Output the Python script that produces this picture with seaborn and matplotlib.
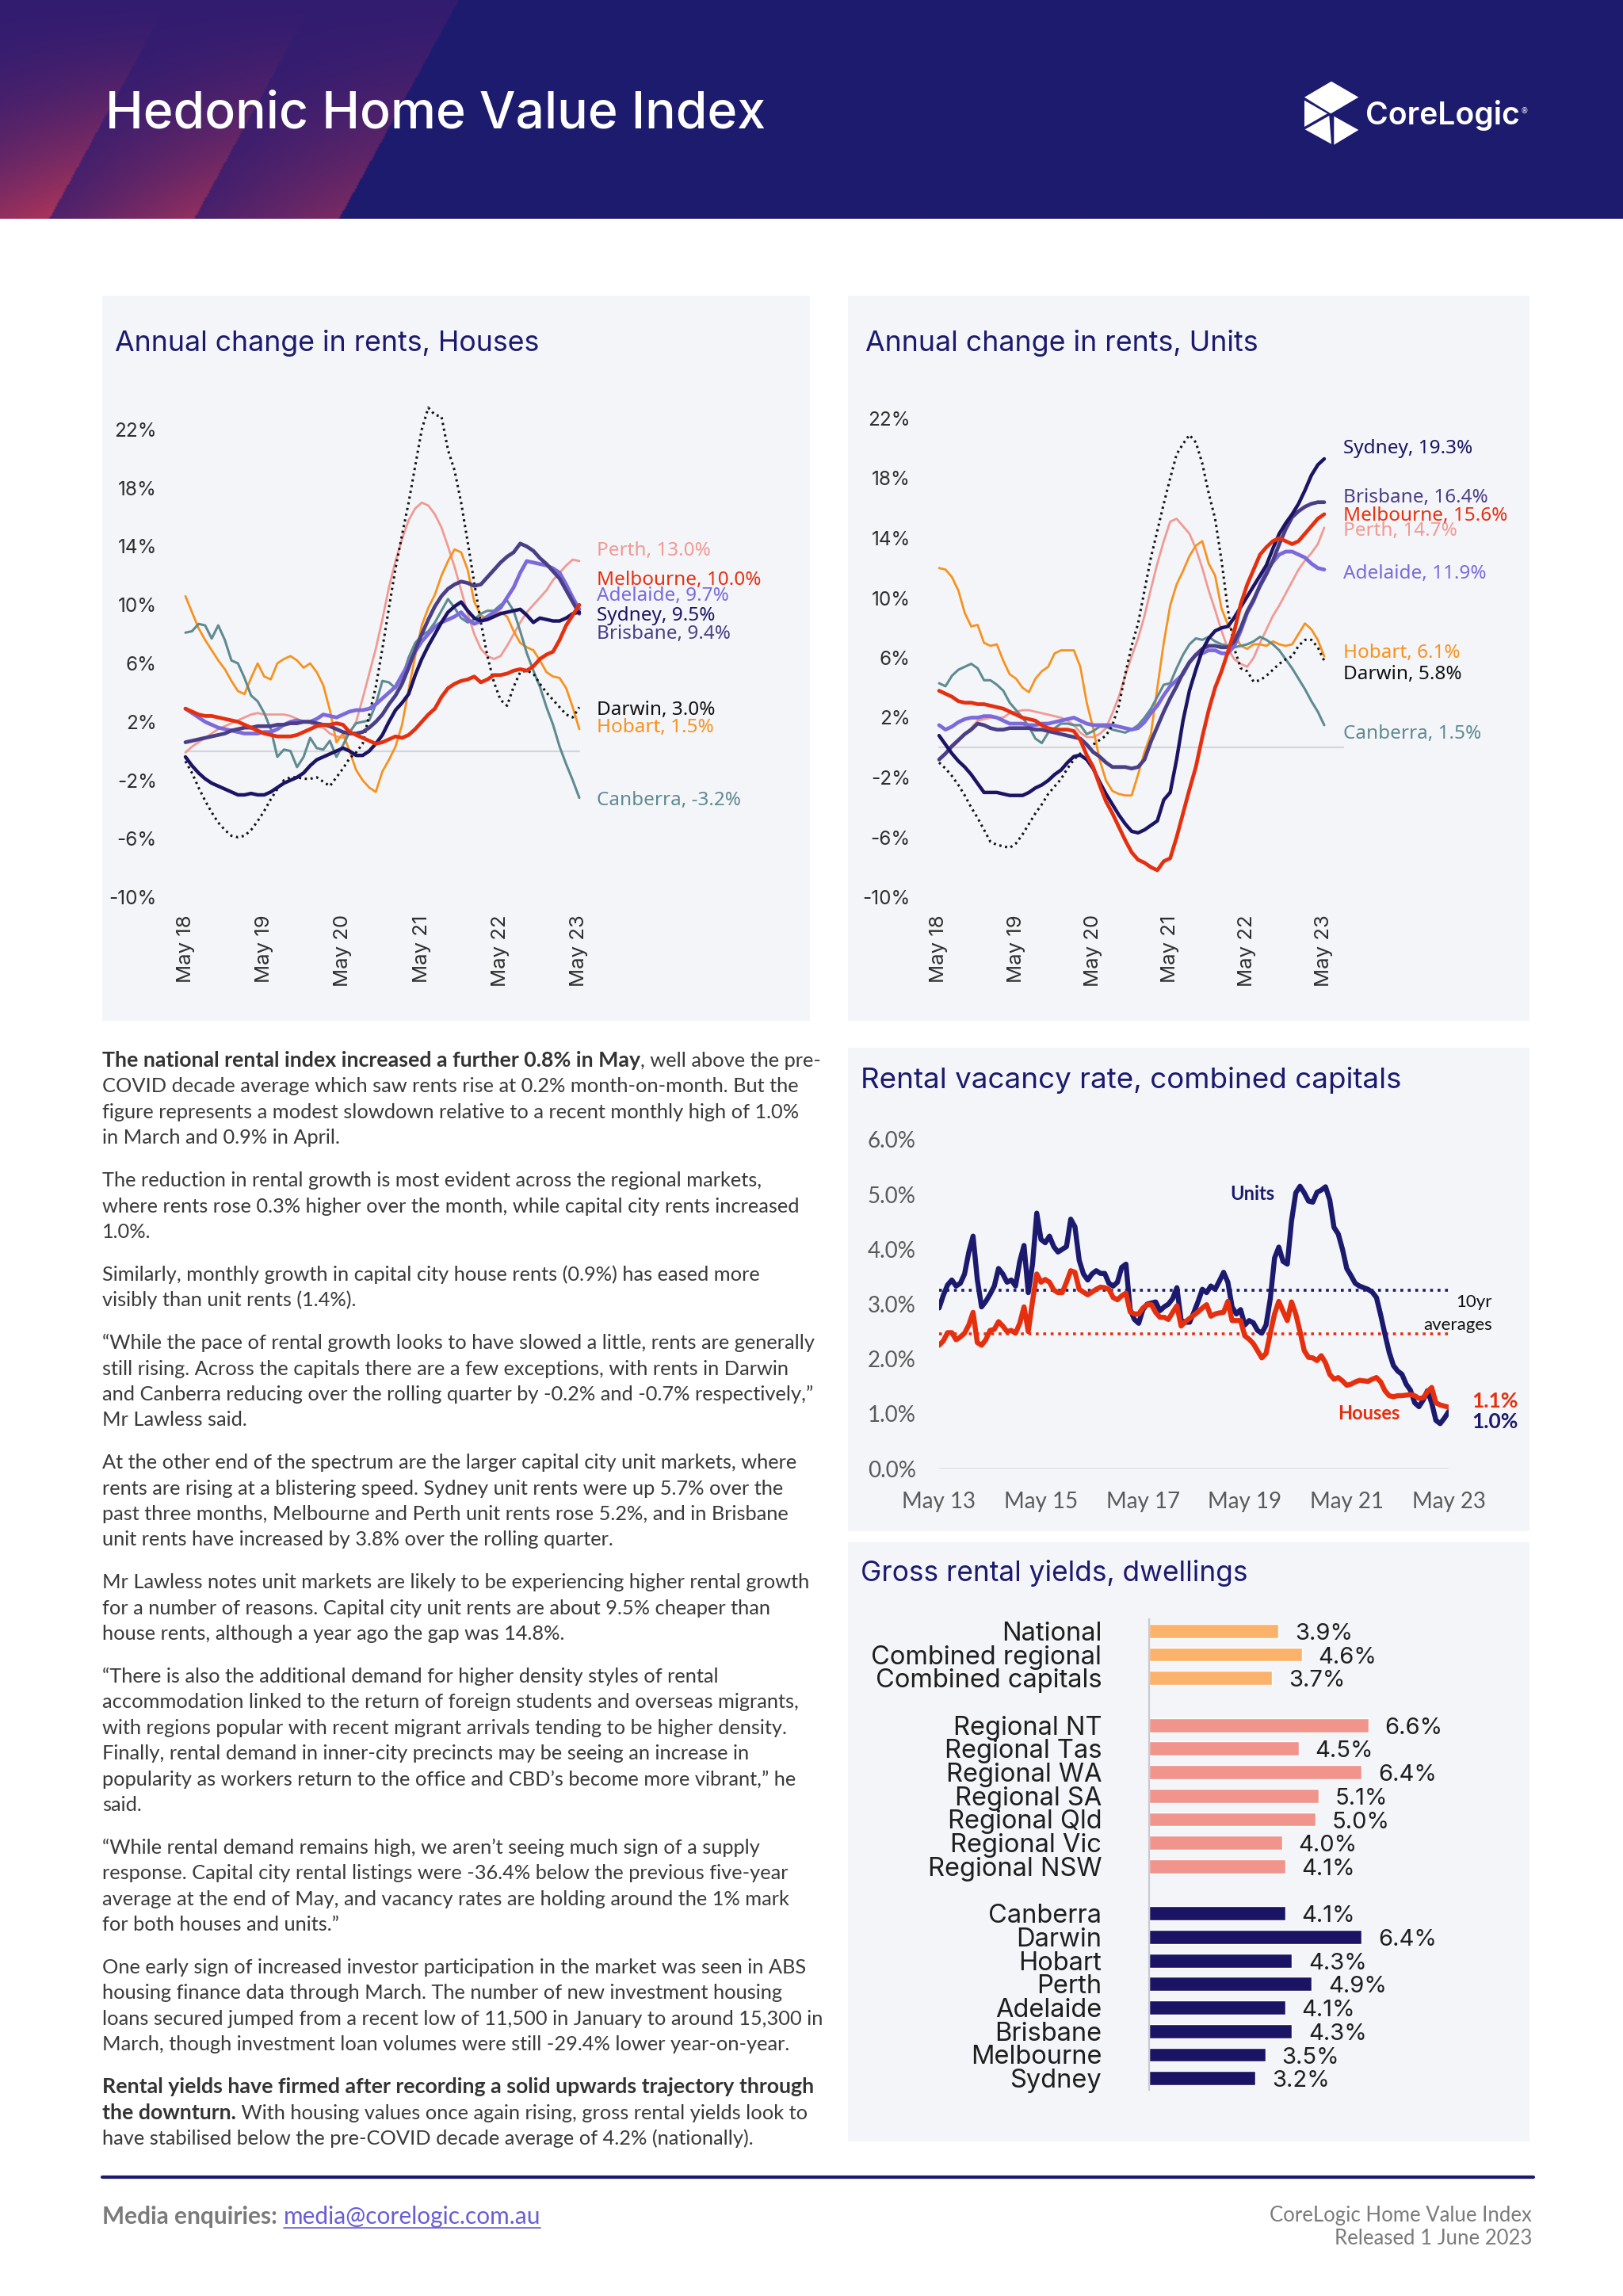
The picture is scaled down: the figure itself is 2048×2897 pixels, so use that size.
import numpy as np
import pandas as pd
import matplotlib
matplotlib.use("Agg")
import matplotlib.pyplot as plt
from matplotlib.patches import Rectangle, Polygon
from matplotlib.lines import Line2D
import seaborn as sns

sns.set_theme(style="white")
plt.rcParams['font.family'] = ['Inter', 'DejaVu Sans']

# ---------------- data ----------------
rent_ticks = ['May 18', 'May 19', 'May 20', 'May 21', 'May 22', 'May 23']
vac_ticks = ['May 13', 'May 15', 'May 17', 'May 19', 'May 21', 'May 23']
cities = ['Perth', 'Melbourne', 'Adelaide', 'Sydney', 'Brisbane', 'Darwin', 'Hobart', 'Canberra']

# annual change in rents, houses (monthly, May 18 - May 23)
houses_sydney = [-0.4, -1.0, -1.5, -1.9, -2.2, -2.4, -2.6, -2.8, -3.0, -3.0,
                 -2.9, -3.0, -3.0, -2.8, -2.5, -2.2, -2.0, -1.8, -1.5, -1.0,
                 -0.6, -0.4, -0.2, 0.0, 0.2, 0.0, -0.3, -0.3, 0.0, 0.5,
                 1.1, 2.0, 2.8, 3.3, 3.9, 5.2, 6.3, 7.2, 8.0, 8.8,
                 9.5, 9.9, 10.2, 9.6, 9.1, 8.9, 9.0, 9.2, 9.4, 9.5,
                 9.6, 9.7, 9.3, 8.8, 9.1, 9.0, 8.9, 8.9, 9.1, 9.4, 9.5]
houses_melbourne = [2.9, 2.7, 2.5, 2.4, 2.4, 2.3, 2.2, 2.1, 2.0, 1.8,
                    1.6, 1.4, 1.2, 1.1, 1.0, 1.0, 1.0, 1.1, 1.3, 1.5,
                    1.7, 1.8, 1.8, 1.9, 1.8, 1.3, 1.1, 0.9, 0.7, 0.5,
                    0.6, 0.8, 1.0, 0.9, 1.1, 1.5, 2.0, 2.5, 2.9, 3.7,
                    4.3, 4.6, 4.8, 4.9, 5.1, 4.7, 4.9, 5.2, 5.2, 5.3,
                    5.5, 5.6, 5.5, 5.8, 6.3, 6.6, 6.8, 7.6, 8.6, 9.3, 10.0]
houses_brisbane = [0.6, 0.7, 0.8, 0.9, 1.0, 1.1, 1.2, 1.4, 1.5, 1.6,
                   1.6, 1.7, 1.7, 1.7, 1.8, 1.8, 1.9, 1.9, 2.0, 2.0,
                   1.9, 1.8, 1.7, 1.5, 1.3, 1.2, 1.2, 1.3, 1.6, 2.0,
                   2.5, 3.2, 3.8, 4.6, 5.7, 6.9, 8.0, 9.0, 9.9, 10.6,
                   11.1, 11.4, 11.6, 11.5, 11.3, 11.4, 11.9, 12.4, 12.9, 13.3,
                   13.6, 14.2, 14.0, 13.7, 13.2, 12.8, 12.3, 11.8, 11.0, 10.2, 9.4]
houses_adelaide = [2.9, 2.6, 2.3, 2.0, 1.8, 1.6, 1.5, 1.4, 1.3, 1.2,
                   1.2, 1.2, 1.3, 1.3, 1.5, 1.8, 2.0, 2.1, 2.0, 2.0,
                   2.2, 2.5, 2.4, 2.3, 2.5, 2.7, 2.8, 2.8, 2.9, 3.2,
                   3.6, 4.0, 4.4, 5.2, 6.0, 6.8, 7.5, 8.0, 8.5, 8.8,
                   9.0, 9.2, 9.5, 9.0, 8.7, 8.9, 9.2, 9.5, 9.8, 10.5,
                   11.2, 12.2, 13.0, 12.9, 12.8, 12.7, 12.5, 12.2, 11.4, 10.5, 9.7]
houses_perth = [-0.1, 0.3, 0.6, 0.9, 1.2, 1.5, 1.7, 1.9, 2.1, 2.3,
                2.5, 2.6, 2.5, 2.5, 2.5, 2.5, 2.4, 2.2, 2.0, 1.9,
                1.7, 1.6, 1.2, 1.0, 0.9, 1.2, 2.0, 3.6, 5.3, 7.0,
                9.0, 11.2, 13.0, 14.5, 15.8, 16.6, 17.0, 16.8, 16.2, 15.3,
                14.0, 12.6, 11.0, 9.4, 8.0, 7.0, 6.5, 6.3, 6.5, 7.2,
                8.0, 8.8, 9.5, 10.0, 10.5, 11.0, 11.7, 12.2, 12.7, 13.1, 13.0]
houses_hobart = [10.6, 9.5, 8.4, 7.6, 6.9, 6.2, 5.6, 4.8, 4.1, 3.9,
                 5.0, 6.0, 5.1, 4.9, 6.0, 6.3, 6.5, 6.2, 5.7, 6.0,
                 5.4, 4.5, 2.8, 0.6, 1.2, 0.0, -1.3, -2.0, -2.5, -2.8,
                 -1.4, -0.6, 0.3, 1.8, 4.2, 6.5, 8.6, 9.8, 10.7, 12.0,
                 13.0, 13.8, 13.6, 12.4, 10.2, 9.3, 9.0, 9.3, 9.5, 9.2,
                 8.2, 7.4, 7.1, 6.9, 6.2, 5.4, 5.1, 5.0, 4.3, 3.0, 1.5]
houses_darwin = [-0.7, -1.5, -2.5, -3.4, -4.2, -4.9, -5.4, -5.8, -5.9, -5.8,
                 -5.4, -4.8, -4.1, -3.3, -2.6, -2.0, -1.8, -1.8, -1.9, -1.9,
                 -1.8, -2.1, -2.4, -1.8, -1.2, -0.5, -0.1, 0.5, 2.5, 4.4,
                 7.0, 9.8, 12.5, 14.8, 17.0, 19.5, 22.0, 23.5, 23.0, 22.9,
                 20.6, 19.2, 17.0, 14.3, 11.5, 8.8, 6.5, 4.7, 3.5, 3.1,
                 4.4, 5.4, 5.5, 5.3, 4.6, 4.0, 3.5, 3.0, 2.5, 2.3, 3.0]
houses_canberra = [8.1, 8.2, 8.7, 8.6, 7.7, 8.6, 7.6, 6.2, 6.0, 5.0,
                   3.8, 3.4, 2.6, 1.5, -0.4, 0.1, 0.0, -1.1, -0.4, 0.9,
                   0.2, 0.1, 0.7, -0.4, 0.4, 1.3, 1.9, 2.0, 2.1, 3.2,
                   4.8, 4.7, 4.3, 5.0, 6.4, 7.4, 7.9, 8.2, 8.8, 9.6,
                   10.4, 9.8, 9.1, 8.8, 9.0, 9.4, 9.6, 9.6, 10.0, 10.3,
                   9.6, 8.2, 6.7, 5.5, 4.4, 3.0, 1.8, 0.3, -0.9, -2.0, -3.2]

# annual change in rents, units (monthly, May 18 - May 23)
units_sydney = [0.8, 0.2, -0.4, -0.9, -1.3, -1.8, -2.4, -3.0, -3.0, -3.0,
                -3.1, -3.2, -3.2, -3.2, -3.0, -2.7, -2.5, -2.2, -1.8, -1.5,
                -1.0, -0.6, -0.5, -0.8, -1.4, -2.3, -3.1, -3.8, -4.5, -5.1,
                -5.6, -5.7, -5.5, -5.2, -4.9, -3.5, -3.0, -0.8, 1.8, 3.8,
                5.2, 6.5, 7.3, 7.8, 8.0, 8.1, 8.7, 9.4, 10.1, 10.8,
                11.5, 12.2, 13.3, 14.3, 15.0, 15.6, 16.3, 17.2, 18.2, 18.9, 19.3]
units_brisbane = [-0.8, -0.4, 0.1, 0.5, 0.9, 1.2, 1.6, 1.5, 1.3, 1.2,
                  1.2, 1.3, 1.3, 1.3, 1.3, 1.2, 1.2, 1.1, 1.0, 0.9,
                  0.8, 0.7, 0.6, 0.2, -0.3, -0.6, -1.0, -1.3, -1.3, -1.3,
                  -1.4, -1.3, -0.8, 0.4, 1.4, 2.4, 3.3, 4.1, 5.0, 5.7,
                  6.2, 6.6, 6.8, 6.8, 6.7, 6.7, 7.1, 8.0, 9.1, 9.9,
                  10.8, 11.6, 12.5, 13.6, 14.6, 15.4, 15.8, 16.1, 16.3, 16.4, 16.4]
units_melbourne = [3.8, 3.6, 3.4, 3.1, 3.0, 3.0, 2.9, 2.9, 2.8, 2.7,
                   2.6, 2.4, 2.2, 2.0, 1.9, 1.8, 1.5, 1.3, 1.2, 1.2,
                   1.2, 1.1, 0.5, -0.5, -1.3, -2.5, -3.6, -4.4, -5.3, -6.2,
                   -7.0, -7.5, -7.7, -8.0, -8.2, -7.6, -7.4, -6.0, -4.4, -2.8,
                   -1.3, 0.7, 2.5, 4.0, 5.1, 6.4, 7.8, 9.6, 10.9, 11.9,
                   12.9, 13.4, 13.8, 14.0, 13.8, 13.6, 13.8, 14.3, 14.8, 15.3, 15.6]
units_perth = [-0.8, -0.4, 0.0, 0.4, 0.9, 1.3, 1.8, 1.9, 2.0, 2.0,
               2.0, 2.3, 2.4, 2.5, 2.5, 2.4, 2.3, 2.2, 2.1, 2.0,
               1.8, 1.5, 1.0, 0.7, 0.7, 0.9, 1.3, 2.3, 3.4, 4.8,
               6.1, 7.3, 8.8, 10.6, 12.3, 13.8, 15.1, 15.3, 14.8, 14.3,
               13.3, 12.0, 10.5, 9.2, 7.8, 6.6, 5.9, 5.6, 5.4, 6.0,
               7.0, 7.9, 8.8, 9.5, 10.3, 11.1, 11.9, 12.5, 13.0, 13.6, 14.7]
units_adelaide = [1.5, 1.2, 1.4, 1.7, 1.9, 2.0, 2.0, 2.1, 2.1, 2.0,
                  1.8, 1.6, 1.6, 1.6, 1.5, 1.5, 1.6, 1.6, 1.7, 1.8,
                  1.9, 2.0, 1.8, 1.6, 1.5, 1.5, 1.5, 1.5, 1.4, 1.3,
                  1.2, 1.3, 1.7, 2.3, 2.8, 3.5, 4.1, 4.5, 4.9, 5.7,
                  6.2, 6.3, 6.5, 6.5, 6.3, 6.3, 6.8, 7.8, 9.0, 9.8,
                  10.9, 11.8, 12.4, 12.9, 13.1, 13.1, 12.9, 12.7, 12.3, 12.0, 11.9]
units_hobart = [12.0, 11.9, 11.4, 10.5, 9.0, 8.1, 8.2, 7.0, 6.8, 6.9,
                5.8, 4.9, 4.6, 4.0, 3.7, 4.6, 5.1, 5.4, 6.3, 6.5,
                6.5, 6.5, 5.4, 3.0, 1.3, -0.8, -2.2, -2.9, -3.1, -3.2,
                -3.2, -1.8, -0.3, 0.9, 4.0, 7.0, 9.5, 10.9, 11.8, 12.8,
                13.5, 13.8, 12.3, 11.5, 9.3, 8.2, 7.6, 6.8, 6.6, 6.9,
                6.9, 6.8, 7.1, 6.9, 6.8, 6.9, 7.6, 8.3, 7.9, 7.2, 6.1]
units_darwin = [-1.0, -1.4, -1.9, -2.5, -3.2, -4.0, -4.7, -5.5, -6.3, -6.5,
                -6.6, -6.7, -6.4, -5.8, -5.1, -4.4, -3.8, -3.1, -2.6, -2.1,
                -1.4, -0.8, -0.4, 0.0, 0.2, 0.5, 0.8, 1.5, 2.8, 4.9,
                6.8, 8.3, 10.5, 12.7, 14.5, 16.3, 18.0, 19.6, 20.3, 20.9,
                20.4, 19.0, 17.0, 15.3, 12.5, 9.2, 6.6, 5.3, 5.1, 4.4,
                4.5, 4.8, 5.2, 5.6, 5.9, 6.1, 6.8, 7.2, 7.2, 6.7, 5.8]
units_canberra = [4.3, 4.1, 4.8, 5.2, 5.4, 5.6, 5.3, 4.5, 4.5, 4.2,
                  3.8, 3.0, 2.5, 2.0, 1.4, 0.6, 0.3, 1.0, 1.3, 1.6,
                  1.6, 1.5, 1.5, 0.9, 1.1, 1.4, 1.4, 1.2, 1.1, 1.0,
                  1.2, 1.5, 2.0, 2.6, 3.4, 4.2, 4.3, 5.3, 6.2, 6.9,
                  7.3, 7.2, 7.4, 7.1, 6.9, 6.8, 6.7, 6.8, 6.9, 7.1,
                  7.4, 7.2, 6.9, 6.5, 5.9, 5.3, 4.6, 3.9, 3.1, 2.4, 1.5]

# rental vacancy rate, combined capitals (monthly, May 13 - May 23)
vac_units = [2.93, 3.16, 3.35, 3.44, 3.33, 3.38, 3.55, 3.95, 4.24, 3.45,
             2.95, 3.05, 3.18, 3.33, 3.65, 3.55, 3.40, 3.44, 3.33, 3.78,
             4.07, 3.21, 3.73, 4.66, 4.18, 4.12, 4.24, 4.05, 3.95, 4.00,
             4.05, 4.55, 4.41, 3.80, 3.55, 3.44, 3.55, 3.61, 3.56, 3.56,
             3.38, 3.33, 3.40, 3.67, 3.73, 2.90, 2.72, 2.65, 2.90, 3.00,
             3.02, 3.04, 2.88, 2.95, 3.00, 3.10, 3.30, 2.70, 2.67, 2.67,
             2.85, 3.05, 3.27, 3.21, 3.33, 3.27, 3.42, 3.58, 3.40, 2.95,
             2.82, 2.90, 2.62, 2.70, 2.66, 2.52, 2.47, 2.62, 3.10, 3.84,
             4.04, 3.78, 3.73, 4.52, 5.03, 5.15, 5.03, 4.88, 4.86, 5.04,
             5.08, 5.14, 4.90, 4.40, 4.28, 4.00, 3.65, 3.52, 3.38, 3.33,
             3.30, 3.27, 3.22, 3.12, 2.80, 2.45, 2.12, 1.88, 1.78, 1.72,
             1.54, 1.43, 1.20, 1.13, 1.25, 1.42, 1.20, 0.88, 0.82, 0.92,
             1.04]
vac_houses = [2.25, 2.33, 2.48, 2.48, 2.35, 2.40, 2.47, 2.62, 2.85, 2.30,
              2.25, 2.35, 2.52, 2.54, 2.68, 2.60, 2.50, 2.52, 2.47, 2.65,
              2.95, 2.50, 3.05, 3.55, 3.40, 3.45, 3.40, 3.26, 3.21, 3.21,
              3.40, 3.61, 3.58, 3.27, 3.22, 3.17, 3.22, 3.27, 3.31, 3.30,
              3.27, 3.12, 3.08, 3.15, 3.20, 2.86, 2.82, 2.82, 2.93, 2.99,
              2.99, 2.85, 2.76, 2.76, 2.72, 2.85, 2.97, 2.60, 2.68, 2.74,
              2.80, 2.86, 2.93, 2.99, 2.78, 2.82, 2.84, 2.85, 3.05, 2.70,
              2.70, 2.70, 2.42, 2.36, 2.28, 2.15, 2.02, 2.10, 2.47, 2.82,
              3.05, 2.87, 2.70, 3.04, 2.82, 2.50, 2.15, 2.03, 2.02, 1.97,
              2.06, 1.93, 1.72, 1.63, 1.66, 1.60, 1.52, 1.54, 1.58, 1.61,
              1.60, 1.59, 1.63, 1.66, 1.58, 1.42, 1.33, 1.31, 1.33, 1.33,
              1.34, 1.35, 1.33, 1.28, 1.29, 1.40, 1.48, 1.20, 1.16, 1.14,
              1.12]
avg_units = 3.25
avg_houses = 2.46

# gross rental yields, dwellings
yield_labels = ['National', 'Combined regional', 'Combined capitals',
                'Regional NT', 'Regional Tas', 'Regional WA', 'Regional SA',
                'Regional Qld', 'Regional Vic', 'Regional NSW',
                'Canberra', 'Darwin', 'Hobart', 'Perth', 'Adelaide',
                'Brisbane', 'Melbourne', 'Sydney']
yield_values = [3.9, 4.6, 3.7, 6.6, 4.5, 6.4, 5.1, 5.0, 4.0, 4.1,
                4.1, 6.4, 4.3, 4.9, 4.1, 4.3, 3.5, 3.2]
yield_groups = ['Aggregate'] * 3 + ['Regional'] * 7 + ['Capital'] * 8

# ---------------- styles ----------------
NAVY = '#1C1A6E'
PANEL = '#F4F5F9'
TEXT = '#3A3A3A'
COL = {'Sydney': '#1B1464', 'Melbourne': '#E5300F', 'Brisbane': '#4A3F86',
       'Adelaide': '#7C69DC', 'Perth': '#F09A94', 'Hobart': '#F7921E',
       'Darwin': '#111111', 'Canberra': '#5E8B90'}
LW = {'Sydney': 3.2, 'Melbourne': 3.4, 'Brisbane': 3.4, 'Adelaide': 3.4,
      'Perth': 2.0, 'Hobart': 2.0, 'Darwin': 2.2, 'Canberra': 2.2}
draw_order = ['Perth', 'Hobart', 'Canberra', 'Darwin', 'Adelaide', 'Brisbane', 'Sydney', 'Melbourne']

W, H = 2048, 2897
fig = plt.figure(figsize=(W / 100, H / 100), dpi=100)
fig.patch.set_facecolor('white')
renderer = fig.canvas.get_renderer()


def box(l, t, r, b):
    return [l / W, 1 - b / H, (r - l) / W, (b - t) / H]


def ftext(x, y, s, **kw):
    return fig.text(x / W, 1 - y / H, s, **kw)


def width(t):
    return t.get_window_extent(renderer=renderer).width


def fit(t, target):
    t.set_fontsize(t.get_fontsize() * target / width(t))
    return t


# ---------------- header ----------------
hh = 276
ax_h = fig.add_axes([0, 1 - hh / H, 1, hh / H])
X, Y = np.meshgrid(np.linspace(0, W, 1024), np.linspace(0, hh, 138))
u = X - 150 * (1 - Y / hh)
navy = np.array([29, 27, 110]) / 255
purple = np.array([50, 28, 112]) / 255
red = np.array([170, 52, 90]) / 255
img = np.tile(navy, (138, 1024, 1))
for a, b, s in [(-160, 62, 1.0), (62, 245, 0.8), (245, 428, 0.6)]:
    m = (u >= a) & (u < b)
    frac = np.clip((u - a) / (b - a), 0, 1)
    r = (s * (0.3 + 0.7 * frac) * (Y / hh) ** 1.4)[..., None]
    col = purple * (1 - r) + red * r
    img[m] = col[m]
ax_h.imshow(img, extent=(0, W, hh, 0), aspect='auto', interpolation='bilinear')
ax_h.set_xlim(0, W)
ax_h.set_ylim(hh, 0)
ax_h.axis('off')
t = ax_h.text(133, 162, 'Hedonic Home Value Index', color='white', fontsize=46,
              fontweight='medium', va='baseline', ha='left')
fit(t, 834)
for pts in [[(1646, 122.7), (1680, 102.7), (1714.3, 122.7), (1679.3, 143.3)],
            [(1646, 126.7), (1675, 143.3), (1646, 160)],
            [(1646.7, 163.3), (1677.3, 146), (1680, 181.7)],
            [(1683.3, 146.7), (1714.3, 164), (1683.3, 182.7)]]:
    ax_h.add_patch(Polygon(pts, closed=True, facecolor='white', edgecolor='none'))
t = ax_h.text(1723, 157, 'CoreLogic', color='white', fontsize=28, fontweight='semibold',
              va='baseline', ha='left')
fit(t, 195)
ax_h.text(1924, 140, '\u00ae', color='white', fontsize=7, va='center', ha='center',
          family=['DejaVu Sans'])

# ---------------- panels ----------------
for l, tp, r, b in [(129, 373, 1022, 1288), (1070, 373, 1930, 1288),
                    (1070, 1322, 1930, 1932), (1070, 1946, 1930, 2702)]:
    fig.add_artist(Rectangle((l / W, 1 - b / H), (r - l) / W, (b - tp) / H,
                             transform=fig.transFigure, facecolor=PANEL,
                             edgecolor='none', zorder=-5))

for x0, y0, s, w in [(1086, 1373, 'Rental vacancy rate, combined capitals', 682),
                     (145, 443, 'Annual change in rents, Houses', 535),
                     (1092, 443, 'Annual change in rents, Units', 495),
                     (1086, 1995, 'Gross rental yields, dwellings', 488)]:
    fit(ftext(x0, y0, s, color=NAVY, fontsize=20, va='baseline'), w)


# ---------------- rent charts ----------------
def rent_chart(ax, df, label_x, label_y, zero_end):
    for city in draw_order:
        ls = (0, (0.9, 1.5)) if city == 'Darwin' else '-'
        sns.lineplot(x=df.index, y=df[city], ax=ax, color=COL[city], lw=LW[city],
                     linestyle=ls, clip_on=False, legend=False)
    ax.axhline(0, xmin=0, xmax=zero_end, color='#D4D4DA', lw=1.6, zorder=0, clip_on=False)
    ax.set_xlim(0, 60)
    ax.set_ylim(-10, 22)
    ax.set_xticks(range(0, 61, 12))
    ax.set_xticklabels(rent_ticks, rotation=90)
    yt = list(range(-10, 23, 4))
    ax.set_yticks(yt)
    ax.set_yticklabels([f'{v}%' for v in yt])
    ax.tick_params(axis='y', length=0, pad=26, labelsize=17.5, labelcolor='#2E2E2E')
    ax.tick_params(axis='x', length=0, pad=16, labelsize=18.5, labelcolor='#2E2E2E')
    ax.set_xlabel('')
    ax.set_ylabel('')
    for s in ax.spines.values():
        s.set_visible(False)
    ax.set_facecolor('none')
    for city in cities:
        ax.text(label_x, label_y[city], f'{city}, {df[city].iloc[-1]:.1f}%',
                color=COL[city], fontsize=17.5, family=['Noto Sans', 'DejaVu Sans'],
                va='center', ha='left', clip_on=False)


houses = pd.DataFrame({'Sydney': houses_sydney, 'Melbourne': houses_melbourne,
                       'Brisbane': houses_brisbane, 'Adelaide': houses_adelaide,
                       'Perth': houses_perth, 'Hobart': houses_hobart,
                       'Darwin': houses_darwin, 'Canberra': houses_canberra})
units = pd.DataFrame({'Sydney': units_sydney, 'Melbourne': units_melbourne,
                      'Brisbane': units_brisbane, 'Adelaide': units_adelaide,
                      'Perth': units_perth, 'Hobart': units_hobart,
                      'Darwin': units_darwin, 'Canberra': units_canberra})

ax1 = fig.add_axes(box(234, 542, 731, 1132))
rent_chart(ax1, houses, 62.6,
           {'Perth': 13.7, 'Melbourne': 11.7, 'Adelaide': 10.6, 'Sydney': 9.25,
            'Brisbane': 8.0, 'Darwin': 2.8, 'Hobart': 1.6, 'Canberra': -3.4}, 1.0)
ax2 = fig.add_axes(box(1185, 528, 1671, 1132))
rent_chart(ax2, units, 63.0,
           {'Sydney': 20.0, 'Brisbane': 16.7, 'Melbourne': 15.5, 'Perth': 14.5,
            'Adelaide': 11.6, 'Hobart': 6.3, 'Darwin': 4.9, 'Canberra': 0.9}, 1.05)

# ---------------- vacancy chart ----------------
ax3 = fig.add_axes(box(1185, 1438, 1828, 1853))
vac = pd.DataFrame({'month': range(len(vac_units)), 'Units': vac_units, 'Houses': vac_houses})
RED = '#E5300F'
ax3.hlines([avg_units], 0, 120, colors=NAVY, linestyles=(0, (1, 1.6)), lw=2.6, zorder=1)
ax3.hlines([avg_houses], 0, 120, colors=RED, linestyles=(0, (1, 1.6)), lw=2.6, zorder=1)
sns.lineplot(data=vac, x='month', y='Units', ax=ax3, color=NAVY, lw=4.6, legend=False, zorder=3)
sns.lineplot(data=vac, x='month', y='Houses', ax=ax3, color=RED, lw=4.6, legend=False, zorder=4)
ax3.axhline(0, color='#D4D4DA', lw=1.8, zorder=0)
ax3.set_xlim(0, 120)
ax3.set_ylim(0, 6)
ax3.set_xticks(range(0, 121, 24))
ax3.set_xticklabels(vac_ticks)
ax3.set_yticks(range(0, 7))
ax3.set_yticklabels([f'{v:.1f}%' for v in range(0, 7)])
for lab in ax3.get_xticklabels() + ax3.get_yticklabels():
    lab.set_family(['Lato', 'DejaVu Sans'])
ax3.tick_params(axis='both', length=0, pad=21, labelsize=20, labelcolor='#5A5A5A')
ax3.set_xlabel('')
ax3.set_ylabel('')
for s in ax3.spines.values():
    s.set_visible(False)
ax3.set_facecolor('none')
lato = ['Lato', 'DejaVu Sans']
ax3.text(73.7, 5.01, 'Units', color=NAVY, fontsize=17, fontweight='bold', family=lato,
         ha='center', va='center')
ax3.text(101.3, 1.01, 'Houses', color=RED, fontsize=17, fontweight='bold', family=lato,
         ha='center', va='center')
ax3.text(130.3, 3.03, '10yr', color='#111111', fontsize=16, family=lato,
         ha='right', va='center', clip_on=False)
ax3.text(130.3, 2.62, 'averages', color='#111111', fontsize=16, family=lato,
         ha='right', va='center', clip_on=False)
ax3.text(125.4, 1.23, f'{vac_houses[-1]:.1f}%', color=RED, fontsize=19, fontweight='bold',
         family=lato, ha='left', va='center', clip_on=False)
ax3.text(125.4, 0.85, f'{vac_units[-1]:.1f}%', color=NAVY, fontsize=19, fontweight='bold',
         family=lato, ha='left', va='center', clip_on=False)

# ---------------- yields chart ----------------
ax4 = fig.add_axes(box(1450, 2043, 1869, 2637))
order = yield_labels[:3] + [' '] + yield_labels[3:10] + ['  '] + yield_labels[10:]
ydf = pd.DataFrame({'label': yield_labels, 'value': yield_values, 'group': yield_groups})
sns.barplot(data=ydf, x='value', y='label', hue='group', order=order, dodge=False,
            palette={'Aggregate': '#FBB26A', 'Regional': '#F0948C', 'Capital': '#1B1464'},
            width=0.6, saturation=1, legend=False, ax=ax4)
for lab, v in zip(yield_labels, yield_values):
    ax4.text(v + 0.5, order.index(lab) + 0.12, f'{v}%', fontsize=21, color='#1E1E1E',
             va='center', ha='left')
ax4.set_xlim(0, 10)
ax4.set_ylim(len(order) - 0.5, -0.5)
ax4.set_xticks([])
ax4.set_xlabel('')
ax4.set_ylabel('')
ax4.tick_params(axis='y', length=0, pad=43, labelsize=23.5, labelcolor='#1E1E1E')
for k, s in ax4.spines.items():
    s.set_visible(k == 'left')
ax4.spines['left'].set_color('#C9C9D2')
ax4.spines['left'].set_linewidth(1.6)
ax4.set_facecolor('none')

# ---------------- body text ----------------
paragraphs = [
    [('The national rental index increased a further 0.8% in May', ', well above the pre-'),
     'COVID decade average which saw rents rise at 0.2% month-on-month. But the',
     'figure represents a modest slowdown relative to a recent monthly high of 1.0%',
     'in March and 0.9% in April.'],
    ['The reduction in rental growth is most evident across the regional markets,',
     'where rents rose 0.3% higher over the month, while capital city rents increased',
     '1.0%.'],
    ['Similarly, monthly growth in capital city house rents (0.9%) has eased more',
     'visibly than unit rents (1.4%).'],
    ['\u201cWhile the pace of rental growth looks to have slowed a little, rents are generally',
     'still rising. Across the capitals there are a few exceptions, with rents in Darwin',
     'and Canberra reducing over the rolling quarter by -0.2% and -0.7% respectively,\u201d',
     'Mr Lawless said.'],
    ['At the other end of the spectrum are the larger capital city unit markets, where',
     'rents are rising at a blistering speed. Sydney unit rents were up 5.7% over the',
     'past three months, Melbourne and Perth unit rents rose 5.2%, and in Brisbane',
     'unit rents have increased by 3.8% over the rolling quarter.'],
    ['Mr Lawless notes unit markets are likely to be experiencing higher rental growth',
     'for a number of reasons. Capital city unit rents are about 9.5% cheaper than',
     'house rents, although a year ago the gap was 14.8%.'],
    ['\u201cThere is also the additional demand for higher density styles of rental',
     'accommodation linked to the return of foreign students and overseas migrants,',
     'with regions popular with recent migrant arrivals tending to be higher density.',
     'Finally, rental demand in inner-city precincts may be seeing an increase in',
     'popularity as workers return to the office and CBD\u2019s become more vibrant,\u201d he',
     'said.'],
    ['\u201cWhile rental demand remains high, we aren\u2019t seeing much sign of a supply',
     'response. Capital city rental listings were -36.4% below the previous five-year',
     'average at the end of May, and vacancy rates are holding around the 1% mark',
     'for both houses and units.\u201d'],
    ['One early sign of increased investor participation in the market was seen in ABS',
     'housing finance data through March. The number of new investment housing',
     'loans secured jumped from a recent low of 11,500 in January to around 15,300 in',
     'March, though investment loan volumes were still -29.4% lower year-on-year.'],
    [('Rental yields have firmed after recording a solid upwards trajectory through', ''),
     ('the downturn.', ' With housing values once again rising, gross rental yields look to'),
     'have stabilised below the pre-COVID decade average of 4.2% (nationally).'],
]

probe = ftext(129, 100, paragraphs[0][1], fontsize=16, family=lato)
bsize = probe.get_fontsize() * 884 / width(probe)
probe.remove()
probe = ftext(129, 100, paragraphs[-1][0][0], fontsize=16, family=lato, fontweight='bold')
bold_size = probe.get_fontsize() * 902 / width(probe)
probe.remove()

y = 1346
for para in paragraphs:
    for line in para:
        if isinstance(line, tuple):
            bt = ftext(129, y, line[0], fontsize=bold_size, family=lato, fontweight='bold',
                       color='#333333', va='baseline')
            if line[1]:
                ftext(129 + width(bt), y, line[1], fontsize=bsize, family=lato,
                      color=TEXT, va='baseline')
        else:
            ftext(129, y, line, fontsize=bsize, family=lato, color=TEXT, va='baseline')
        y += 32.4
    y += 21.5

# ---------------- footer ----------------
fig.add_artist(Line2D([129 / W, 1935 / W], [1 - 2747 / H] * 2, color=NAVY, lw=3,
                      transform=fig.transFigure))
mt = ftext(129, 2806, 'Media enquiries:', fontsize=18, family=lato, fontweight='bold',
           color='#7B7B7B', va='baseline')
fit(mt, 222)
lx = 129 + width(mt) + 8
lk = ftext(lx, 2806, 'media@corelogic.com.au', fontsize=mt.get_fontsize(), family=lato,
           color='#6A5CD6', va='baseline')
fig.add_artist(Line2D([lx / W, (lx + width(lk)) / W], [1 - 2811 / H] * 2, color='#6A5CD6',
                      lw=1.2, transform=fig.transFigure))
r1 = ftext(1933, 2803, 'CoreLogic Home Value Index', fontsize=18, family=lato,
           color='#7B7B7B', va='baseline', ha='right')
fit(r1, 329)
ftext(1933, 2832, 'Released 1 June 2023', fontsize=r1.get_fontsize(), family=lato,
      color='#7B7B7B', va='baseline', ha='right')

fig.savefig('out.png', dpi=100, facecolor='white')
